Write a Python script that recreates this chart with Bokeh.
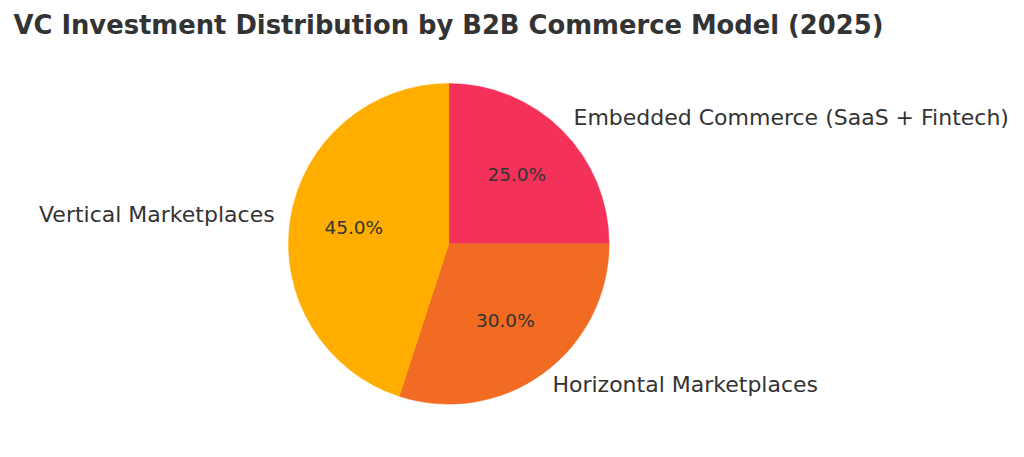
import numpy as np
from bokeh.plotting import figure
from bokeh.models import Range1d, ColumnDataSource, Label
from bokeh.core.properties import value
from bokeh.embed import file_html
from bokeh.resources import INLINE

title = "VC Investment Distribution by B2B Commerce Model (2025)"
labels = ["Embedded Commerce (SaaS + Fintech)", "Horizontal Marketplaces", "Vertical Marketplaces"]
shares = [25.0, 30.0, 45.0]
colors = ["#F43259", "#F26B22", "#FFAE00"]

W, H = 1008, 441
PAGE_H = 457
p = figure(width=W, height=H, output_backend="svg", toolbar_location=None,
           x_range=Range1d(0, W), y_range=Range1d(PAGE_H - H, PAGE_H),
           min_border=0, outline_line_color=None, background_fill_color="white",
           border_fill_color="white")
p.axis.visible = False
p.grid.visible = False

cx, cy, r = 448.3, PAGE_H - 243.3, 160.3
vals = np.array(shares)
fr = vals / vals.sum()
cum = np.concatenate([[0], np.cumsum(fr)])
start = np.pi / 2 - 2 * np.pi * cum[:-1]
end = np.pi / 2 - 2 * np.pi * cum[1:]
mid = (start + end) / 2

src = ColumnDataSource(dict(start=start, end=end, color=colors))
p.wedge(x=cx, y=cy, radius=r, start_angle="start", end_angle="end", direction="clock",
        fill_color="color", line_color="color", line_width=0.5, source=src)

txt_color = "#333333"
font = value("DejaVu Sans")
dy = 1.5  # vertical-centre correction (px)
for i, lab in enumerate(labels):
    lx = cx + 1.1 * r * np.cos(mid[i])
    ly = cy + 1.1 * r * np.sin(mid[i]) + dy
    p.text(x=[lx], y=[ly], text=[lab], text_font=font, text_font_size="22px",
           text_color=txt_color, text_align="left" if np.cos(mid[i]) > 0 else "right",
           text_baseline="middle")
    px = cx + 0.6 * r * np.cos(mid[i])
    py = cy + 0.6 * r * np.sin(mid[i]) + dy
    p.text(x=[px], y=[py], text=[f"{shares[i]:.1f}%"], text_font=font, text_font_size="18.5px",
           text_color=txt_color, text_align="center", text_baseline="middle")

p.add_layout(Label(x=13, y=PAGE_H - 24, text=title, text_font="DejaVu Sans",
                   text_font_style="bold", text_font_size="25.8px", text_color="#333333",
                   text_baseline="middle", text_align="left"))

open("out.html", "w").write(file_html(p, INLINE))
